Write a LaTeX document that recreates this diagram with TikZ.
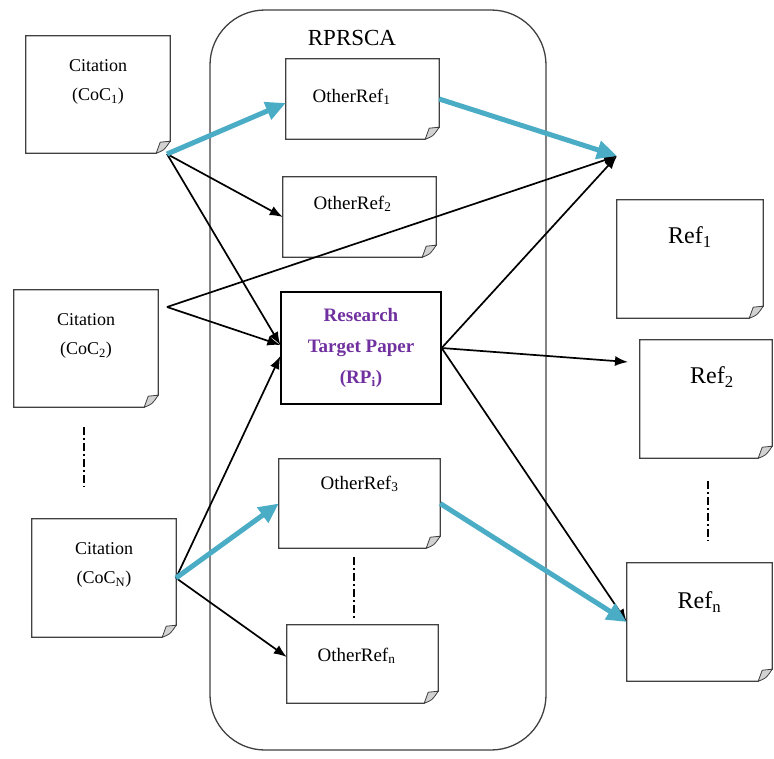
\documentclass[tikz,border=0pt]{standalone}
\usepackage{fontspec}
\setmainfont{Liberation Serif}
\usetikzlibrary{
  arrows.meta,  % arrow tips
  positioning   % relative placement
}
\definecolor{flowblue}{HTML}{4BACC6}
\definecolor{rppurple}{HTML}{7030A0}
\definecolor{docgray}{HTML}{404040}

% outline of a page with a curled corner
\newcommand{\docedge}[1]{%
  \draw[docline] (#1.north west) -- (#1.north east) -- ([yshift=12pt]#1.south east)
    -- ([xshift=-14pt]#1.south east) -- (#1.south west) -- cycle;
  \filldraw[foldline] ([xshift=-14pt]#1.south east) -- ([xshift=-10pt,yshift=11pt]#1.south east)
    -- ([yshift=12pt]#1.south east) .. controls ([xshift=-6pt,yshift=3pt]#1.south east) .. ([xshift=-14pt]#1.south east);
}

\tikzset{
  doc/.style 2 args={
    minimum width=#1pt,
    minimum height=#2pt,
    inner sep=0pt
  },
  docline/.style={
    draw=docgray,
    line width=1.3pt
  },
  foldline/.style={
    draw=docgray,
    fill=gray!35,
    line width=0.8pt
  },
  citetext/.style={
    font=\fontsize{18}{29}\selectfont,
    align=center,
    inner sep=0pt
  },
  othertext/.style={
    font=\fontsize{19}{23}\selectfont,
    inner sep=0pt
  },
  reftext/.style={
    font=\fontsize{24}{28}\selectfont,
    inner sep=0pt
  },
  rpbox/.style={
    draw=black,
    line width=1.3pt,
    minimum width=160pt,
    minimum height=112pt,
    align=center,
    text=rppurple,
    font=\bfseries\fontsize{19}{31}\selectfont
  },
  link/.style={
    -{Latex[length=13pt,width=10pt]},
    line width=1.7pt
  },
  flow/.style={
    -{Triangle[length=20pt,width=18pt]},
    line width=5pt,
    color=flowblue
  },
  gap/.style={
    line width=1.2pt,
    dash pattern=on 8pt off 3pt on 2pt off 3pt
  }
}

\begin{document}
\begin{tikzpicture}[x=1pt, y=-1pt]
  \useasboundingbox (0,0) rectangle (774,758);

  % RPRSCA frame
  \draw[docgray, line width=1.3pt, rounded corners=55pt] (210,10) rectangle (546,750);
  \node[font=\fontsize{23}{27}\selectfont, inner sep=0pt] (sca) at (352,38) {RPRSCA};

  % citing papers
  \node[doc={144}{117}] (coc1) at (98,94.5) {};
  \node[doc={144}{117}] (coc2) at (86,348.5) {};
  \node[doc={144}{118}] (cocn) at (104,578) {};
  \node[citetext] (coc1-t) at ([yshift=-46.5pt]coc1.north) {Citation\\(CoC\textsubscript{1})};
  \node[citetext] (coc2-t) at ([yshift=-46.5pt]coc2.north) {Citation\\(CoC\textsubscript{2})};
  \node[citetext] (cocn-t) at ([yshift=-46.5pt]cocn.north) {Citation\\(CoC\textsubscript{N})};

  % other references inside the frame
  \node[doc={153}{80}] (oref1) at (362.5,99) {};
  \node[doc={153}{80}] (oref2) at (359.5,217) {};
  \node[doc={161}{89}] (oref3) at (359.5,503.5) {};
  \node[doc={151}{78}] (orefn) at (362.5,664) {};
  \node[othertext] (oref1-t) at ([xshift=-11pt,yshift=-38pt]oref1.north) {OtherRef\textsubscript{1}};
  \node[othertext] (oref2-t) at ([xshift=-7pt,yshift=-27pt]oref2.north) {OtherRef\textsubscript{2}};
  \node[othertext] (oref3-t) at ([yshift=-25pt]oref3.north) {OtherRef\textsubscript{3}};
  \node[othertext] (orefn-t) at ([xshift=-6pt,yshift=-31pt]orefn.north) {OtherRef\textsubscript{n}};

  % target paper
  \node[rpbox] (rp) at (361,348) {Research\\Target Paper\\(RP\textsubscript{i})};

  % references of the target paper
  \node[doc={146}{118}] (ref1) at (690,259) {};
  \node[doc={132}{118}] (ref2) at (706,399) {};
  \node[doc={145}{118}] (refn) at (699.5,622) {};
  \node[reftext] (ref1-t) at ([yshift=-37pt]ref1.north) {Ref\textsubscript{1}};
  \node[reftext] (ref2-t) at ([xshift=6pt,yshift=-37pt]ref2.north) {Ref\textsubscript{2}};
  \node[reftext] (refn-t) at ([yshift=-39pt]refn.north) {Ref\textsubscript{n}};

  \foreach \d in {coc1,coc2,cocn,oref1,oref2,oref3,orefn,ref1,ref2,refn}
    \docedge{\d};

  % elision marks
  \draw[gap] (84,427) -- (84,487);
  \draw[gap] (354,557) -- (354,620);
  \draw[gap] (708,481) -- (708,541);

  % branch points
  \coordinate (s1) at (167,154);
  \coordinate (s2) at (167,307);
  \coordinate (s3) at (176,578);
  \coordinate (hub) at (617,156);
  \coordinate (r2in) at (628,362);

  % citation links
  \draw[link] (s1) -- (oref2.west);
  \draw[link] (s1) -- ([yshift=3pt]rp.west);
  \draw[link] (s2) -- ([yshift=3pt]rp.west);
  \draw[link] (s2) -- (hub);
  \draw[link] (s3) -- ([yshift=-8pt]rp.west);
  \draw[link] (s3) -- ([yshift=7pt]orefn.west);
  \draw[link] (rp.east) -- (hub);
  \draw[link] (rp.east) -- (r2in);
  \draw[link] (rp.east) -- (refn.west);

  % co-citation paths
  \draw[flow] (s1) -- ([yshift=-4pt]oref1.west);
  \draw[flow] (oref1.east) -- (hub);
  \draw[flow] (s3) -- (oref3.west);
  \draw[flow] (oref3.east) -- (refn.west);
\end{tikzpicture}
\end{document}
